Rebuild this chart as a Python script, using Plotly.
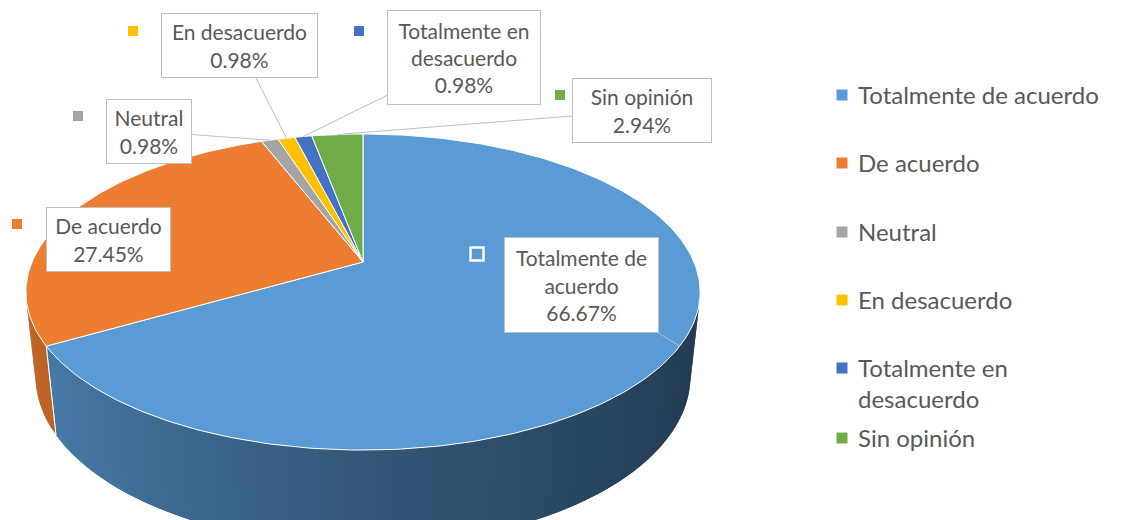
import numpy as np
import plotly.graph_objects as go

# ---- data ----
categories = ["Totalmente de acuerdo", "De acuerdo", "Neutral", "En desacuerdo",
              "Totalmente en desacuerdo", "Sin opinión"]
percentages = [66.67, 27.45, 0.98, 0.98, 0.98, 2.94]
label_names = ["Totalmente de<br>acuerdo", "De acuerdo", "Neutral", "En desacuerdo",
               "Totalmente en<br>desacuerdo", "Sin opinión"]
legend_names = ["Totalmente de acuerdo", "De acuerdo", "Neutral", "En desacuerdo",
                "Totalmente en<br>desacuerdo", "Sin opinión"]
colors = ["#5B9BD5", "#ED7D31", "#A5A5A5", "#FFC000", "#4472C4", "#70AD47"]

# ---- layout / style constants (pixel space) ----
W, H = 1123, 520
S, CX, CY = 331.0, 363.0, 262.0
ELEV = np.radians(27.4)
DIST = 4.67
THICK = 0.29
TEXT_COLOR = "#595959"
FONT = "Lato"

# label boxes: centre x, centre y, width, height ; key square position
boxes = [(581.5, 285, 155, 96), (108.5, 239.5, 125, 65), (149, 131.5, 86, 65),
         (239.5, 45.5, 157, 65), (464, 57.5, 154, 95), (642, 110.5, 140, 65)]
keys = [(477, 254), (17, 224), (78, 116), (133, 31), (359, 31), (560, 95)]
leader = [True, False, True, True, True, True]
legend_y = [95, 163, 232, 300, 368, 438]
LEG_X = 842


def proj(x, y, z):
    depth = DIST - (y * np.cos(ELEV) + z * np.sin(ELEV))
    vert = -y * np.sin(ELEV) + z * np.cos(ELEV)
    return CX + S * x * DIST / depth, CY - S * vert * DIST / depth


def rim(phi, z=0.0):
    return proj(np.sin(phi), -np.cos(phi), z)


def shade(hexcol, f):
    h = hexcol.lstrip("#")
    r, g, b = (int(h[i:i + 2], 16) for i in (0, 2, 4))
    return "rgb(%d,%d,%d)" % (r * f, g * f, b * f)


def side_poly(p0, p1):
    ph = np.linspace(p0, p1, 6)
    tx, ty = rim(ph, 0.0)
    bx, by = rim(ph[::-1], -THICK)
    return np.concatenate([tx, bx, tx[:1]]), np.concatenate([ty, by, ty[:1]])


fracs = np.array(percentages) / sum(percentages)
bounds = np.concatenate([[0], np.cumsum(fracs)]) * 2 * np.pi

fig = go.Figure()

# visible side range
k = 1.0 / (DIST * np.cos(ELEV))
vis0 = np.arccos(-k)
vis1 = 2 * np.pi - vis0

# side faces (gradient made of overlapping strips)
for i, col in enumerate(colors):
    a0, a1 = max(bounds[i], vis0), min(bounds[i + 1], vis1)
    if a1 <= a0:
        continue
    n = max(2, int(np.ceil((a1 - a0) / np.radians(1.5))))
    edges = np.linspace(a0, a1, n + 1)
    for j in range(n):
        p1 = edges[min(j + 2, n)]
        xs, ys = side_poly(edges[j], p1)
        xm = np.sin(0.5 * (edges[j] + edges[j + 1]))
        t = (xm + 1) / 2
        f = 0.85 - 0.47 * t ** 0.75
        c = shade(col, f)
        fig.add_trace(go.Scatter(x=xs, y=ys, mode="lines", fill="toself",
                                 fillcolor=c, line=dict(width=0),
                                 hoverinfo="skip", showlegend=False))
    # white separator at slice boundary on side
    for b in (bounds[i], bounds[i + 1]):
        if vis0 < b < vis1:
            sx, sy = rim(np.array([b, b]), np.array([0.0, -THICK]))
            fig.add_trace(go.Scatter(x=sx, y=sy, mode="lines",
                                     line=dict(color="white", width=1),
                                     hoverinfo="skip", showlegend=False))

# top faces
for i, col in enumerate(colors):
    ph = np.linspace(bounds[i], bounds[i + 1], max(3, int(fracs[i] * 360)))
    rx, ry = rim(ph)
    xs = np.concatenate([[CX], rx, [CX]])
    ys = np.concatenate([[CY], ry, [CY]])
    fig.add_trace(go.Scatter(x=xs, y=ys, mode="lines", fill="toself",
                             fillcolor=col, line=dict(color="white", width=1),
                             name=categories[i], hoverinfo="name", showlegend=False))

# data-label key squares
for i, col in enumerate(colors):
    kx, ky = keys[i]
    if i == 0:
        mk = dict(symbol="square", size=13, color=col, line=dict(color="white", width=2.5))
    else:
        mk = dict(symbol="square", size=10, color=col, line=dict(width=0))
    fig.add_trace(go.Scatter(x=[kx], y=[ky], mode="markers", marker=mk,
                             hoverinfo="skip", showlegend=False))

# data labels
for i in range(len(categories)):
    bx, by, bw, bh = boxes[i]
    txt = "%s<br>%.2f%%" % (label_names[i], percentages[i])
    common = dict(text=txt, font=dict(family=FONT, size=21, color=TEXT_COLOR),
                  bgcolor="white", bordercolor="#BFBFBF", borderwidth=1, borderpad=0,
                  width=bw - 2, height=bh - 2, align="center", valign="middle")
    if leader[i]:
        mid = 0.5 * (bounds[i] + bounds[i + 1])
        px, py = rim(mid)
        fig.add_annotation(x=float(px), y=float(py), ax=bx, ay=by, axref="x", ayref="y",
                           showarrow=True, arrowhead=0, arrowwidth=1,
                           arrowcolor="#BFBFBF", standoff=0, **common)
    else:
        fig.add_annotation(x=bx, y=by, showarrow=False, **common)

# legend (manual, to match Excel spacing)
fig.add_trace(go.Scatter(x=[LEG_X] * len(colors), y=legend_y, mode="markers",
                         marker=dict(symbol="square", size=11, color=colors),
                         hoverinfo="skip", showlegend=False))
for i, name in enumerate(legend_names):
    fig.add_annotation(x=LEG_X + 14, y=legend_y[i] - 17, text=name, showarrow=False,
                       xanchor="left", yanchor="top", align="left",
                       font=dict(family=FONT, size=24, color=TEXT_COLOR))

fig.update_layout(
    width=W, height=H, margin=dict(l=0, r=0, t=0, b=0),
    paper_bgcolor="white", plot_bgcolor="white",
    xaxis=dict(range=[0, W], visible=False, fixedrange=True),
    yaxis=dict(range=[H, 0], visible=False, fixedrange=True),
    showlegend=False,
)

fig.write_html("out.html", config={"displayModeBar": False},
               post_script="document.body.style.margin='0';")
